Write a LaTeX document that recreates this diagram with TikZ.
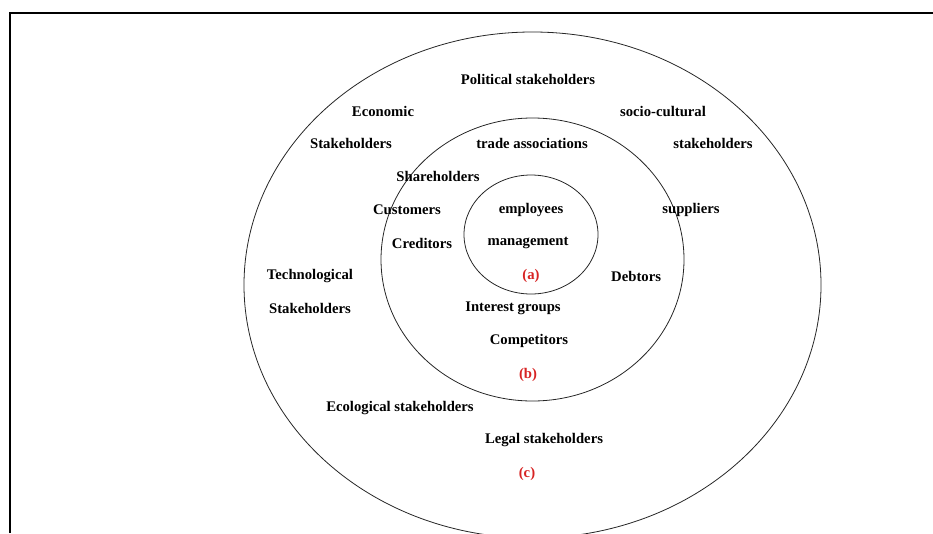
\documentclass[tikz,border=0pt]{standalone}
\usepackage{fontspec}
\setmainfont{Liberation Serif}
\definecolor{ringred}{RGB}{215,35,35}

\begin{document}
\begin{tikzpicture}[x=1pt,y=-1pt,
  every node/.style={font=\fontsize{14.7}{17}\selectfont\bfseries, inner sep=0pt},
  ring/.style={line width=0.8pt, draw=black!85},
  tag/.style={text=ringred}]
  %
  \useasboundingbox (0,0) rectangle (933,533);
  \draw[line width=2.2pt] (10,533) -- (10,13) -- (933,13);
  %
  \coordinate (oc) at (532.5,285);
  \coordinate (mc) at (532.5,259.5);
  \coordinate (ic) at (531,234.5);
  %
  \draw[ring] (oc) ellipse [x radius=288.5, y radius=253];
  \draw[ring] (mc) ellipse [x radius=151.5, y radius=141.5];
  \draw[ring] (ic) ellipse [x radius=67, y radius=59.5];
  %
  \node (political) at (528,79) {Political stakeholders};
  \node (economic) at (383,111) {Economic};
  \node (economic2) at (351,143) {Stakeholders};
  \node (socio) at (663,111) {socio-cultural};
  \node (socio2) at (713,143) {stakeholders};
  \node (techno) at (310,276) {Technological};
  \node (techno2) at (310,308) {Stakeholders};
  \node (ecological) at (400,408) {Ecological stakeholders};
  \node (legal) at (544,440) {Legal stakeholders};
  \node[tag] (c) at (527,474) {(c)};
  %
  \node (trade) at (532,143) {trade associations};
  \node (share) at (438,176) {Shareholders};
  \node (customers) at (407,210) {Customers};
  \node (suppliers) at (691,210) {suppliers};
  \node (creditors) at (422,243) {Creditors};
  \node (debtors) at (611,276) [anchor=west] {Debtors};
  \node (interest) at (513,308) {Interest groups};
  \node (competitors) at (529,341) {Competitors};
  \node[tag] (b) at (528,375) {(b)};
  %
  \node (employees) at (531,210) {employees};
  \node (management) at (528,243) {management};
  \node[tag] (a) at (531,276) {(a)};
\end{tikzpicture}
\end{document}
